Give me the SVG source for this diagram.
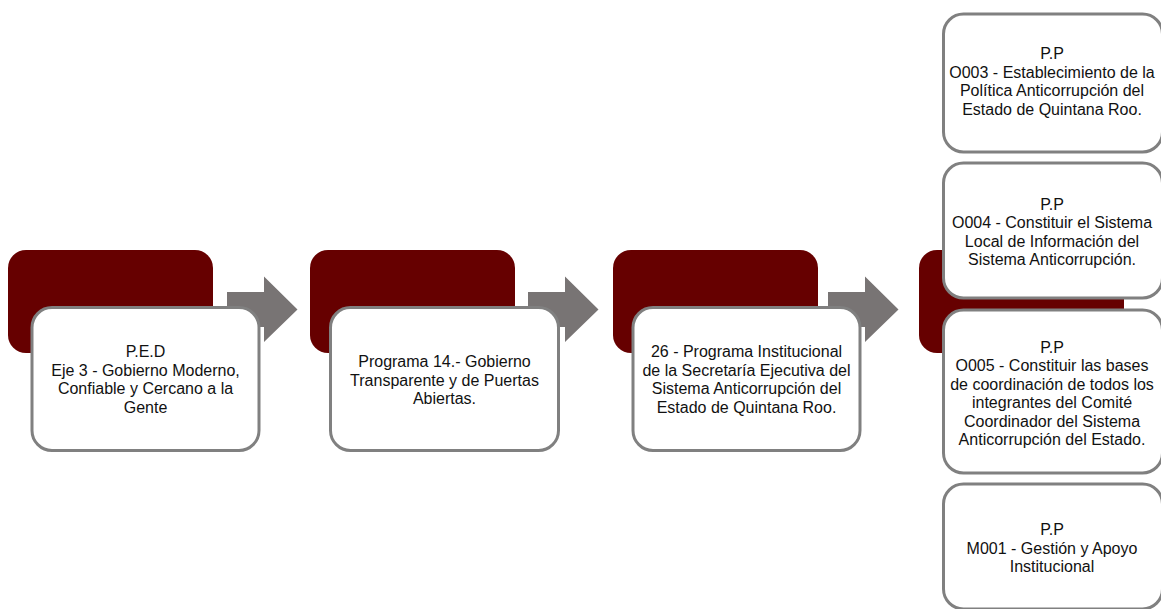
<svg xmlns="http://www.w3.org/2000/svg" width="1161" height="609" viewBox="0 0 1161 609">
<style>
.dark{fill:#660000;}
.box{fill:#ffffff;stroke:#808080;stroke-width:3;}
.arr{fill:#787474;}
text{font-family:"Liberation Sans",Arial,sans-serif;font-size:16px;fill:#111;text-anchor:middle;}
</style>
<rect width="1161" height="609" fill="#ffffff"/>
<g id="connectors">
<polygon class="arr" points="227,292 264,292 264,276.5 297.5,309.5 264,342 264,327 227,327"/>
<polygon class="arr" points="528,292 565,292 565,276.5 598.5,309.5 565,342 565,327 528,327"/>
<polygon class="arr" points="828,292 865,292 865,276.5 898.5,309.5 865,342 865,327 828,327"/>
</g>
<g id="node1">
<rect class="dark" x="8" y="250" width="205" height="103" rx="18"/>
<rect class="box" x="32" y="307.5" width="227" height="143" rx="20"/>
<text x="145.5" y="357">P.E.D</text>
<text x="145.5" y="375.5">Eje 3 - Gobierno Moderno,</text>
<text x="145.5" y="394">Confiable y Cercano a la</text>
<text x="145.5" y="412.5">Gente</text>
</g>
<g id="node2">
<rect class="dark" x="310" y="250" width="205" height="103" rx="18"/>
<rect class="box" x="330.5" y="307.5" width="228" height="143" rx="20"/>
<text x="444.5" y="367">Programa 14.- Gobierno</text>
<text x="444.5" y="385.5">Transparente y de Puertas</text>
<text x="444.5" y="404">Abiertas.</text>
</g>
<g id="node3">
<rect class="dark" x="613" y="250" width="205" height="103" rx="18"/>
<rect class="box" x="633" y="307.5" width="227" height="143" rx="20"/>
<text x="746.5" y="357">26 - Programa Institucional</text>
<text x="746.5" y="375.5">de la Secretaría Ejecutiva del</text>
<text x="746.5" y="394">Sistema Anticorrupción del</text>
<text x="746.5" y="412.5">Estado de Quintana Roo.</text>
</g>
<g id="node4">
<rect class="dark" x="919" y="250" width="205" height="103" rx="18"/>
</g>
<g id="nodeA">
<rect class="box" x="943.5" y="14" width="219" height="138" rx="20"/>
<text x="1052" y="59">P.P</text>
<text x="1052" y="77.5">O003 - Establecimiento de la</text>
<text x="1052" y="96">Política Anticorrupción del</text>
<text x="1052" y="114.5">Estado de Quintana Roo.</text>
</g>
<g id="nodeB">
<rect class="box" x="943.5" y="163" width="219" height="135" rx="20"/>
<text x="1052" y="209.5">P.P</text>
<text x="1052" y="228">O004 - Constituir el Sistema</text>
<text x="1052" y="246.5">Local de Información del</text>
<text x="1052" y="265">Sistema Anticorrupción.</text>
</g>
<g id="nodeC">
<rect class="box" x="943.5" y="310" width="219" height="163" rx="20"/>
<text x="1052" y="352.5">P.P</text>
<text x="1052" y="371">O005 - Constituir las bases</text>
<text x="1052" y="389.5">de coordinación de todos los</text>
<text x="1052" y="408">integrantes del Comité</text>
<text x="1052" y="426.5">Coordinador del Sistema</text>
<text x="1052" y="445">Anticorrupción del Estado.</text>
</g>
<g id="nodeD">
<rect class="box" x="943.5" y="484" width="219" height="125" rx="20"/>
<text x="1052" y="535">P.P</text>
<text x="1052" y="553.5">M001 - Gestión y Apoyo</text>
<text x="1052" y="572">Institucional</text>
</g>
</svg>
